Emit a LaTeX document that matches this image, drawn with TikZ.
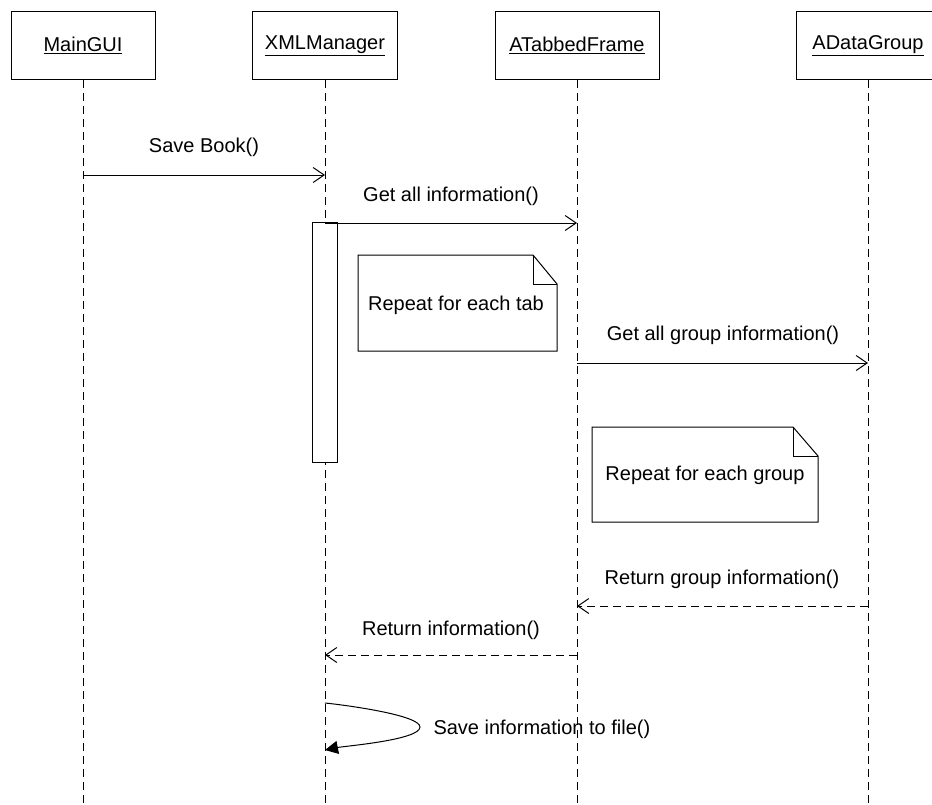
\documentclass[tikz,border=0pt]{standalone}
\usepackage{fontspec}
\setmainfont{Liberation Sans}
\usetikzlibrary{arrows.meta}
\begin{document}
\begin{tikzpicture}[x=1pt,y=-1pt,line width=1pt,
  font=\fontsize{20}{24}\selectfont,
  headbox/.style={draw,minimum width=144pt,minimum height=68pt,inner sep=0pt,anchor=north},
  lifeline/.style={dash pattern=on 8pt off 5pt},
  msg/.style={-{Straight Barb[length=11pt,width=15pt,line width=1pt]}},
  retmsg/.style={msg,dash pattern=on 8pt off 5pt},
  lbl/.style={inner sep=0pt,anchor=base},
  notetext/.style={inner sep=0pt}]
\useasboundingbox (0,0) rectangle (932,804);
\clip (0,0) rectangle (932,804);
\fill[white] (0,0) rectangle (932,804);

% heads
\node[headbox] (gui) at (83,11) {\underline{MainGUI}};
\node[headbox,minimum width=145pt] (xml) at (325,11) {\underline{XMLManager}};
\node[headbox,minimum width=164pt] (tab) at (577,11) {\underline{ATabbedFrame}};
\node[headbox] (grp) at (868,11) {\underline{ADataGroup}};

% lifeline ends
\coordinate (guiE) at (83,810);
\coordinate (xmlE) at (325,810);
\coordinate (tabE) at (577,810);
\coordinate (grpE) at (868,810);
\draw[lifeline] (gui.south) -- (guiE);
\draw[lifeline] (xml.south) -- (xmlE);
\draw[lifeline] (tab.south) -- (tabE);
\draw[lifeline] (grp.south) -- (grpE);

% activation
\node[draw,fill=white,minimum width=25pt,minimum height=240pt,inner sep=0pt,anchor=north] (act) at (324.5,222) {};

% message points
\coordinate (m1a) at (83,175); \coordinate (m1b) at (325,175);
\coordinate (m2a) at (325,223); \coordinate (m2b) at (577,223);
\coordinate (m3a) at (577,363); \coordinate (m3b) at (868,363);
\coordinate (m4a) at (868,606); \coordinate (m4b) at (577,606);
\coordinate (m5a) at (577,655); \coordinate (m5b) at (325,655);
\coordinate (s1) at (325,703); \coordinate (s2) at (420,727); \coordinate (s3) at (325,750);

\draw[msg] (m1a) -- (m1b);
\node[lbl] (t1) at (204,152) {Save Book()};
\draw[msg] (m2a) -- (m2b);
\node[lbl] (t2) at (451,201) {Get all information()};
\draw[msg] (m3a) -- (m3b);
\node[lbl] (t3) at (723,340) {Get all group information()};
\draw[retmsg] (m4a) -- (m4b);
\node[lbl] (t4) at (722,584) {Return group information()};
\draw[retmsg] (m5a) -- (m5b);
\node[lbl] (t5) at (451,635) {Return information()};

% self message
\draw[-{Triangle[length=13pt,width=13pt]}] (s1) .. controls (345,705) and (420,715) .. (s2) .. controls (420,740) and (345,746) .. (s3);
\node[lbl,anchor=base west] (t6) at (433,734) {Save information to file()};

% notes
\draw (358,255) -- (533,255) -- (557,284) -- (557,351) -- (358,351) -- cycle;
\draw (533,255) -- (533,284) -- (557,284);
\node[notetext] (n1) at (456,305) {Repeat for each tab};
\draw (592,427) -- (793,427) -- (818,456) -- (818,522) -- (592,522) -- cycle;
\draw (793,427) -- (793,456) -- (818,456);
\node[notetext] (n2) at (705,475) {Repeat for each group};
\end{tikzpicture}
\end{document}
